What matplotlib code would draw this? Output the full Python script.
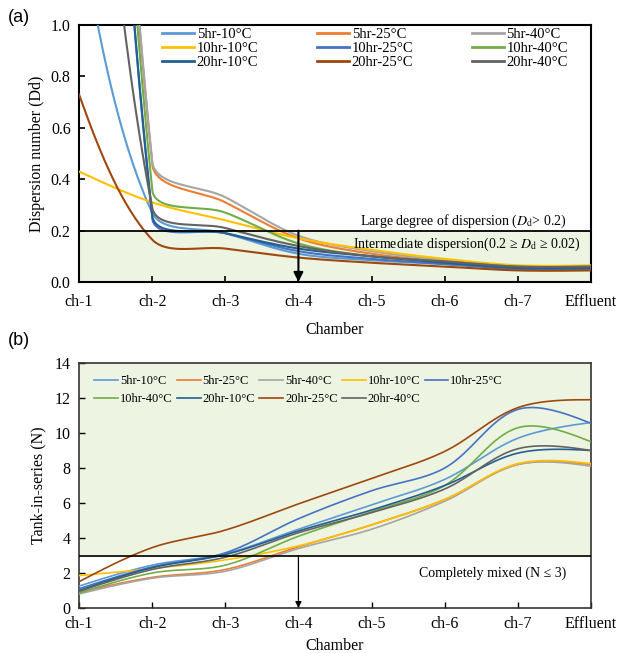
import numpy as np
import matplotlib
matplotlib.use("Agg")
import matplotlib.pyplot as plt

plt.rcParams['font.family'] = ['Liberation Serif', 'DejaVu Serif']
plt.rcParams['mathtext.fontset'] = 'stix'

chambers = ["ch-1", "ch-2", "ch-3", "ch-4", "ch-5", "ch-6", "ch-7", "Effluent"]
series_names = ["5hr-10°C", "5hr-25°C", "5hr-40°C",
                "10hr-10°C", "10hr-25°C", "10hr-40°C",
                "20hr-10°C", "20hr-25°C", "20hr-40°C"]
colors = ["#5B9BD5", "#ED7D31", "#A5A5A5",
          "#FFC000", "#4472C4", "#70AD47",
          "#255E91", "#9E480E", "#636363"]

# Panel (a): dispersion number Dd
dd_5hr_10 = [1.42, 0.27, 0.19, 0.11, 0.085, 0.07, 0.055, 0.055]
dd_5hr_25 = [6.0, 0.46, 0.31, 0.17, 0.11, 0.08, 0.055, 0.052]
dd_5hr_40 = [6.0, 0.47, 0.33, 0.18, 0.12, 0.085, 0.06, 0.06]
dd_10hr_10 = [0.43, 0.31, 0.24, 0.17, 0.125, 0.09, 0.065, 0.065]
dd_10hr_25 = [5.6, 0.25, 0.19, 0.12, 0.09, 0.07, 0.05, 0.05]
dd_10hr_40 = [6.0, 0.36, 0.27, 0.15, 0.10, 0.08, 0.06, 0.06]
dd_20hr_10 = [5.6, 0.26, 0.19, 0.13, 0.10, 0.075, 0.055, 0.055]
dd_20hr_25 = [0.73, 0.165, 0.13, 0.095, 0.075, 0.06, 0.045, 0.045]
dd_20hr_40 = [3.2, 0.29, 0.21, 0.14, 0.10, 0.08, 0.06, 0.06]
dd_all = [dd_5hr_10, dd_5hr_25, dd_5hr_40, dd_10hr_10, dd_10hr_25,
          dd_10hr_40, dd_20hr_10, dd_20hr_25, dd_20hr_40]

# Panel (b): tank-in-series N
n_5hr_10 = [1.25, 2.45, 3.1, 4.5, 5.9, 7.35, 9.7, 10.6]
n_5hr_25 = [0.9, 1.75, 2.2, 3.5, 4.75, 6.2, 8.2, 8.2]
n_5hr_40 = [0.8, 1.7, 2.1, 3.4, 4.5, 6.1, 8.2, 8.1]
n_10hr_10 = [1.85, 2.25, 2.75, 3.55, 4.75, 6.2, 8.25, 8.25]
n_10hr_25 = [1.1, 2.35, 3.15, 5.1, 6.7, 8.0, 11.35, 10.55]
n_10hr_40 = [0.85, 2.0, 2.45, 4.1, 5.5, 7.0, 10.3, 9.5]
n_20hr_10 = [1.0, 2.3, 3.05, 4.4, 5.6, 7.0, 8.85, 9.0]
n_20hr_25 = [1.5, 3.45, 4.45, 5.95, 7.4, 8.95, 11.45, 11.9]
n_20hr_40 = [0.95, 2.2, 2.9, 4.3, 5.45, 6.8, 9.1, 9.0]
n_all = [n_5hr_10, n_5hr_25, n_5hr_40, n_10hr_10, n_10hr_25,
         n_10hr_40, n_20hr_10, n_20hr_25, n_20hr_40]

FILL = "#EDF4E1"
W, H = 620, 653


def smooth(x, y, sx, sy, n=40, t=1/3, endk=0.4):
    """Excel-like smoothed line through the data points (display-space Bezier)."""
    P = np.column_stack([np.asarray(x, float) * sx, np.asarray(y, float) * sy])
    m = len(P)
    C1 = [None] * (m - 1)
    C2 = [None] * (m - 1)
    for i in range(m - 1):
        if i > 0:
            d = P[i + 1] - P[i - 1]
            l1 = np.linalg.norm(P[i] - P[i - 1]); l2 = np.linalg.norm(P[i + 1] - P[i])
            C1[i] = P[i] + t * d * l2 / (l1 + l2)
        if i + 1 < m - 1:
            d = P[i + 2] - P[i]
            l1 = np.linalg.norm(P[i + 1] - P[i]); l2 = np.linalg.norm(P[i + 2] - P[i + 1])
            C2[i] = P[i + 1] - t * d * l1 / (l1 + l2)
    C1[0] = P[0] + (C2[0] - P[0]) * endk
    C2[-1] = P[-1] + (C1[-1] - P[-1]) * endk
    out = []
    s = np.linspace(0, 1, n)[:, None]
    for i in range(m - 1):
        p0, c1, c2, p3 = P[i], C1[i], C2[i], P[i + 1]
        B = (1 - s) ** 3 * p0 + 3 * (1 - s) ** 2 * s * c1 + 3 * (1 - s) * s ** 2 * c2 + s ** 3 * p3
        out.append(B if i == 0 else B[1:])
    B = np.vstack(out)
    return B[:, 0] / sx, B[:, 1] / sy


fig = plt.figure(figsize=(W / 100, H / 100), dpi=100)
axL, axW = 79 / W, 512 / W
ax1 = fig.add_axes([axL, 1 - 282 / H, axW, 257 / H])
ax2 = fig.add_axes([axL, 1 - 608 / H, axW, 245 / H])

x = np.arange(len(chambers))

# ---------- Panel (a) ----------
ax1.set_xlim(0, 7)
ax1.set_ylim(0, 1.0)
ax1.axhspan(0, 0.2, color=FILL, zorder=0)
sx1, sy1 = 512 / 7, 257 / 1.0
handles1 = {}
for name, col, vals in zip(series_names, colors, dd_all):
    xs, ys = smooth(x, vals, sx1, sy1)
    ln, = ax1.plot(xs, ys, color=col, lw=1.5, zorder=3)
    handles1[name] = ln
ax1.axhline(0.2, color="black", lw=1.3, zorder=4)
ax1.annotate("", xy=(3, 0.0), xytext=(3, 0.2),
             arrowprops=dict(arrowstyle="-|>", color="black", lw=1.5,
                             mutation_scale=14, shrinkA=0, shrinkB=0), zorder=5)
ax1.text(5.25, 0.237, r"Large degree of dispersion ($D_{\rm d}$> 0.2)",
         ha="center", va="center", fontsize=10)
ax1.text(5.3, 0.147, r"Intermediate dispersion(0.2 ≥ $D_{\rm d}$ ≥ 0.02)",
         ha="center", va="center", fontsize=10)
order1 = ["5hr-10°C", "10hr-10°C", "20hr-10°C",
          "5hr-25°C", "10hr-25°C", "20hr-25°C",
          "5hr-40°C", "10hr-40°C", "20hr-40°C"]
leg1_handles = [plt.Line2D([], [], color=handles1[k].get_color(), lw=2.0) for k in order1]
ax1.legend(leg1_handles, order1, ncol=3, frameon=False,
           loc="upper left", bbox_to_anchor=(0.15, 1.013), fontsize=10.5,
           handlelength=2.2, handletextpad=0.2, columnspacing=4.0,
           labelspacing=0.08, borderaxespad=0)
ax1.set_yticks(np.arange(0, 1.01, 0.2))
ax1.set_yticklabels([f"{v:.1f}" for v in np.arange(0, 1.01, 0.2)])
ax1.set_xticks(x)
ax1.set_xticklabels(chambers)
ax1.tick_params(direction="in", labelsize=11.5, length=4, width=1.2, pad=6)
ax1.tick_params(axis="x", pad=9)
for sp in ax1.spines.values():
    sp.set_linewidth(1.5); sp.set_color("black")
ax1.set_xlabel("Chamber", fontsize=11.5, labelpad=8)
ax1.set_ylabel("Dispersion number (Dd)", fontsize=11.5, labelpad=4)
fig.text(8 / W, 1 - 18 / H, "(a)", family="Liberation Sans", fontsize=13, va="center")

# ---------- Panel (b) ----------
ax2.set_xlim(0, 7)
ax2.set_ylim(0, 14)
ax2.axhspan(3, 14, color=FILL, zorder=0)
sx2, sy2 = 512 / 7, 245 / 14
handles2 = {}
for name, col, vals in zip(series_names, colors, n_all):
    xs, ys = smooth(x, vals, sx2, sy2)
    ln, = ax2.plot(xs, ys, color=col, lw=1.2, zorder=3)
    handles2[name] = ln
ax2.axhline(3, color="black", lw=1.2, zorder=4)
ax2.annotate("", xy=(3, 0.0), xytext=(3, 3),
             arrowprops=dict(arrowstyle="-|>", color="black", lw=0.9,
                             mutation_scale=9, shrinkA=0, shrinkB=0), zorder=5)
ax2.text(5.65, 2.0, "Completely mixed (N ≤ 3)", ha="center", va="center", fontsize=10)
order2 = ["5hr-10°C", "10hr-40°C", "5hr-25°C", "20hr-10°C", "5hr-40°C",
          "20hr-25°C", "10hr-10°C", "20hr-40°C", "10hr-25°C"]
ax2.legend([handles2[k] for k in order2], order2, ncol=5, frameon=False,
           loc="upper left", bbox_to_anchor=(0.02, 0.97), fontsize=9,
           handlelength=1.9, handletextpad=0.15, columnspacing=0.35,
           labelspacing=0.45, borderaxespad=0)
ax2.set_yticks(np.arange(0, 15, 2))
ax2.set_xticks(x)
ax2.set_xticklabels(chambers)
ax2.tick_params(direction="in", labelsize=11.5, length=4, width=1.0, pad=6)
ax2.tick_params(axis="x", pad=6)
for sp in ax2.spines.values():
    sp.set_linewidth(1.2); sp.set_color("#333333")
ax2.set_xlabel("Chamber", fontsize=11.5, labelpad=4)
ax2.set_ylabel("Tank-in-series (N)", fontsize=11.5, labelpad=6)
fig.text(8 / W, 1 - 340 / H, "(b)", family="Liberation Sans", fontsize=13, va="center")

fig.savefig("out.png", dpi=100)
